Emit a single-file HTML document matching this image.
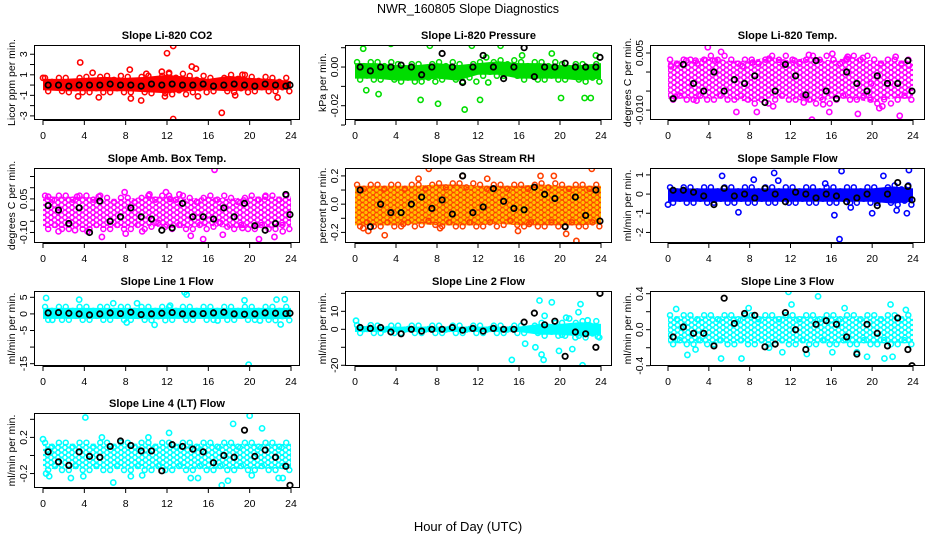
<!DOCTYPE html>
<html><head><meta charset="utf-8"><style>
body{margin:0;background:#fff}
svg{display:block;font-family:"Liberation Sans",sans-serif}
</style></head><body>
<svg id="c" width="936" height="540" viewBox="0 0 936 540">
<rect width="936" height="540" fill="#fff"/>
<text x="468" y="13" text-anchor="middle" font-size="12.5">NWR_160805  Slope Diagnostics</text>
<text x="468" y="531" text-anchor="middle" font-size="13">Hour of Day (UTC)</text>
</svg>
<script>
const bandHours=[0,2,4,6,8,10,12,14,16,18,20,22,24];
const blackHours=[0.5,1.5,2.5,3.5,4.5,5.5,6.5,7.5,8.5,9.5,10.5,11.5,12.5,13.5,14.5,15.5,16.5,17.5,18.5,19.5,20.5,21.5,22.5,23.5,23.9];
const xTicks=[0,4,8,12,16,20,24];

const co2Lo=[-0.5,-0.6,-0.6,-0.6,-0.6,-0.7,-0.8,-0.6,-0.5,-0.6,-0.5,-0.5,-0.4];
const co2Hi=[0.6,0.6,0.7,0.8,0.7,0.8,1.0,0.8,0.6,0.9,0.7,0.6,0.4];
const co2OutX=[3.6,12,12.6,12.6,17.3,14.4,14.8,8.4,8.5,9.5,5.4,3.4,15,11.8,22.7,18.6,4.8,10,11.5,12.2,19.3,0];
const co2OutY=[2.2,3.1,3.8,-3.3,-2.7,1.8,1.6,1.5,-1.3,-1.5,-1.2,-1.1,-1.1,-1.1,-1.2,-1,1.2,1.1,1.3,1.2,1.0,0.7];
const co2Black=[0,0,-0.1,0,0,0,0.1,0,0,-0.1,0.1,0,0.1,0,0,0.1,-0.1,0,0.1,0,-0.1,0.1,0,-0.1,0];

const presLo=[-0.006,-0.006,-0.007,-0.007,-0.006,-0.007,-0.004,-0.004,-0.006,-0.006,-0.006,-0.007,-0.006];
const presHi=[0.002,0.002,0.001,0.001,0.002,0.001,0.002,0.003,0.002,0.002,0.001,0.001,0.002];
const presOutX=[0.8,2.7,3.5,7.3,8.9,11.4,14.2,16.0,8,24,10.7,8.1,6.4,12.2,20.1,22.4,23,1.1,2.3,13.0,19.2,23.5,16.3,12.8];
const presOutY=[0.0095,0.015,0.012,0.011,0.013,0.011,0.011,-0.0295,-0.0295,-0.0315,-0.022,-0.019,-0.017,-0.017,-0.016,-0.016,-0.016,-0.012,-0.014,-0.008,0.007,0.006,0.006,0.005];
const presBlack=[0,-0.002,0,0,0.001,0,-0.004,0,0.007,0,-0.008,0,0.006,0,-0.006,0,0.01,-0.005,0,0,0.002,0,0,0,0.005];

const tempLo=[-0.007,-0.007,-0.007,-0.007,-0.008,-0.007,-0.007,-0.008,-0.007,-0.007,-0.008,-0.007,-0.007];
const tempHi=[0.003,0.003,0.004,0.003,0.003,0.004,0.003,0.004,0.003,0.004,0.003,0.003,0.003];
const tempOutX=[3.9,5.2,16.1,17.6,19.1,22.3,23.6,0.3,6.7,8.7,14.1,15.8,18.6,21,13.3,10.3,2.8,0.7,22.7,17.5,13.8,11.3,7.3,8.3,4.6,1.8,2.7,9.9,12.4,20.7,15.2,19.9];
const tempOutY=[0.0065,0.0053,0.0048,0.004,0.0037,0.004,0.0017,0.0015,-0.0105,-0.0105,-0.0125,-0.0105,-0.011,-0.009,-0.008,-0.009,-0.0075,-0.0065,-0.0115,0.0035,0.0045,0.0025,0.0015,0.0025,0.003,0.003,0.003,0.0035,0.003,-0.0095,-0.0085,-0.003];
const tempBlack=[-0.007,0.002,-0.003,-0.005,0,-0.005,-0.002,-0.003,-0.001,-0.008,-0.005,0.002,-0.001,-0.006,0.003,-0.005,-0.007,0,-0.003,-0.005,-0.001,-0.003,-0.003,0.003,-0.005];

const ambLo=[-0.08,-0.08,-0.08,-0.08,-0.08,-0.07,-0.08,-0.08,-0.07,-0.08,-0.08,-0.08,-0.07];
const ambHi=[0.06,0.06,0.06,0.05,0.05,0.06,0.06,0.05,0.06,0.05,0.06,0.06,0.06];
const ambOutX=[16.6,7.9,11.9,13.2,0.5,5.4,5.7,8,15.5,20.9,14.3,22.4,3.1,4.3,17.4,9.6,19.3,1.5,23.2,21.5,3.3,10.3,12.3];
const ambOutY=[0.18,0.08,0.08,0.07,0.06,0.06,-0.12,-0.105,-0.13,-0.13,-0.115,-0.12,-0.09,-0.095,-0.11,-0.095,-0.08,-0.095,-0.095,0.06,0.06,0.07,0.05];
const ambBlack=[0.02,0,-0.06,0.01,-0.1,0.04,-0.05,-0.03,0.01,-0.03,-0.04,-0.09,-0.08,0.03,-0.03,-0.03,-0.04,0.01,-0.03,0.03,-0.07,-0.09,-0.06,0.07,-0.02];

const rhLo=[-0.15,-0.15,-0.15,-0.14,-0.15,-0.15,-0.15,-0.14,-0.15,-0.15,-0.15,-0.15,-0.14];
const rhHi=[0.13,0.13,0.13,0.13,0.14,0.14,0.13,0.13,0.13,0.14,0.13,0.13,0.13];
const rhOutX=[7.2,23.1,21.6,2.9,0.8,8.3,18.1,10.5,19.4,12.9,15.9,1.3,20.6,4.7,17,6.2];
const rhOutY=[0.25,0.25,-0.26,-0.22,-0.17,-0.17,0.2,0.2,0.2,0.18,-0.19,-0.19,-0.21,-0.14,-0.14,0.18];
const rhBlack=[0.1,-0.16,0,-0.06,-0.06,0,0.05,-0.03,0.03,-0.07,0.2,-0.06,-0.02,0.11,0.02,-0.03,-0.04,0.12,0.07,0.04,-0.16,0.05,-0.08,0.1,-0.12];

const flowLo=[-0.4,-0.4,-0.4,-0.4,-0.4,-0.4,-0.4,-0.4,-0.4,-0.4,-0.4,-0.5,-0.4];
const flowHi=[0.3,0.3,0.3,0.3,0.3,0.3,0.3,0.3,0.3,0.3,0.3,0.4,0.3];
const flowOutX=[5.3,10.4,10.8,8.4,17,21.1,23.6,6.9,16.3,16.8,20,17.9,23.4,22.4,0,15.4];
const flowOutY=[0.95,1.1,0.7,0.75,1.2,0.95,1.25,-0.95,-1.1,-2.35,-1,-0.7,-1,-0.85,-0.55,0.55];
const flowBlack=[0.2,0.2,0.1,-0.1,-0.55,0.3,-0.1,0,-0.2,0.3,0,-0.4,0.1,0,-0.2,0,-0.1,-0.4,-0.2,0,-0.6,0,0.6,0.4,-0.3];

const l1Lo=[-1.5,-1.5,-1.5,-1.5,-1.5,-1.6,-1.5,-1.5,-1.5,-1.5,-1.5,-1.6,-1.5];
const l1Hi=[1.8,1.8,1.8,1.8,1.8,1.8,1.8,1.8,1.8,1.8,1.8,1.8,1.8];
const l1OutX=[0.3,13.7,13.9,3.5,6.8,9.1,12.3,19.5,22.6,23.4,19.9,8.1,10.8,23,0.9,16.9,21];
const l1OutY=[4.8,6.5,5.8,4.3,3.2,3.2,2.5,4.1,4.3,4.4,-15.3,-2.6,-3.3,-3.2,-1.8,-2,-2];
const l1Black=[0.3,0.4,0.2,0,-0.3,0,0.3,0.1,0.5,-0.2,0,0.2,0.4,0,0,0.1,0.3,0.5,0,-0.1,0,0.3,0.2,0.1,0.2];

const l2Lo=[-1.5,-1.5,-1.5,-1.5,-1.5,-1.5,-1.5,-1.5,-1.5,-3,-3,-4,-3];
const l2Hi=[1.8,1.5,1.5,1.5,1.5,1.5,1.5,1.5,1.5,3,3,4,3];
const l2OutX=[0.1,15.3,16.6,17.6,18,18.2,18.4,18.5,19.2,19.9,20.6,20.9,21.2,21.8,22,22.2,22.7,23.7,20.2,21.5];
const l2OutY=[4.8,-17,-8,-10,16,-14,-17,7.5,15,-12,6.5,6,-11,9.5,14,-20,5,-4,-3,-4.5];
const l2Black=[1,0.5,1,-1.5,-2.5,0,-1,0,0,1,-0.5,0.5,-1,0.5,0,0,4,9,2.5,4.5,-15,-1.5,-2.5,-10,20];

const l3Lo=[-0.15,-0.15,-0.15,-0.15,-0.15,-0.15,-0.15,-0.15,-0.15,-0.15,-0.15,-0.15,-0.15];
const l3Hi=[0.15,0.15,0.15,0.15,0.15,0.15,0.15,0.15,0.15,0.15,0.15,0.15,0.15];
const l3OutX=[11.8,14.7,12.1,21.8,17.3,0.8,1.9,5.2,7.2,11.2,13.6,16.1,19.5,21.2,22,9.9,2.7,23.3,7.9,18.5];
const l3OutY=[0.42,0.37,0.28,0.28,0.24,0.23,-0.28,-0.32,-0.32,-0.25,-0.27,-0.25,-0.3,-0.32,-0.3,-0.2,-0.22,0.22,0.24,-0.25];
const l3Black=[-0.08,0.03,-0.04,-0.04,-0.18,0.35,0.07,0.18,0.16,-0.19,-0.16,0.19,0,-0.22,0.06,0.1,0.06,-0.08,-0.27,0.06,-0.04,-0.18,0.13,-0.22,-0.4];

const l4Lo=[-0.15,-0.15,-0.15,-0.15,-0.15,-0.15,-0.15,-0.15,-0.15,-0.15,-0.15,-0.15,-0.15];
const l4Hi=[0.13,0.13,0.13,0.13,0.13,0.13,0.13,0.13,0.13,0.13,0.13,0.13,0.13];
const l4OutX=[4.1,20,18.4,6.8,17.3,17.9,2.7,0.3,0.6,3.9,8.5,9.6,14.3,15,20.2,22.8,23.2,21.2,12.2,0,10.2,5.7];
const l4OutY=[0.42,0.44,0.35,-0.3,-0.33,-0.28,-0.25,-0.2,-0.23,-0.23,-0.23,-0.22,-0.25,-0.25,-0.22,-0.25,-0.25,0.3,0.25,0.18,0.2,0.2];
const l4Black=[0.04,-0.07,-0.11,0.04,-0.01,-0.02,0.1,0.16,0.11,0.05,0.05,-0.17,0.12,0.1,0.07,0.04,-0.08,0,-0.02,0.28,-0.01,0.06,-0.02,-0.12,-0.33];

const titles=["Slope Li-820 CO2","Slope Li-820 Pressure","Slope Li-820 Temp.","Slope Amb. Box Temp.","Slope Gas Stream RH","Slope Sample Flow","Slope Line 1 Flow","Slope Line 2 Flow","Slope Line 3 Flow","Slope Line 4 (LT) Flow"];
const yTitles=["Licor ppm per min.","kPa per min.","degrees C per min.","degrees C per min.","percent per min.","ml/min per min.","ml/min per min.","ml/min per min.","ml/min per min.","ml/min per min."];
const yTicks=[[-3,-2,-1,0,1,2,3],[0.01,0,-0.01,-0.02,-0.03],[0.005,0,-0.005,-0.01],[0.15,0.1,0.05,0,-0.05,-0.1],[0.2,0.1,0,-0.1,-0.2],[1,0,-1,-2],[5,0,-5,-10,-15],[20,10,0,-10,-20],[0.4,0.2,0,-0.2,-0.4],[0.4,0.2,0,-0.2]];
const yTickLabels=[["-3","","-1","","1","","3"],["","0.00","","-0.02",""],["0.005","","","-0.010"],["","","0.05","","","-0.10"],["0.2","","0.0","","-0.2"],["1","0","-1","-2"],["5","0","-5","","-15"],["","10","0","","-20"],["0.4","","0.0","","-0.4"],["","0.2","","-0.2"]];
const yMin=[-3.4,-0.0274,-0.0126,-0.147,-0.275,-2.55,-15.7,-20.4,-0.403,-0.36];
const yMax=[3.9,0.0114,0.0071,0.188,0.256,1.36,6.9,21.3,0.43,0.47];
const lows=[co2Lo,presLo,tempLo,ambLo,rhLo,flowLo,l1Lo,l2Lo,l3Lo,l4Lo];
const highs=[co2Hi,presHi,tempHi,ambHi,rhHi,flowHi,l1Hi,l2Hi,l3Hi,l4Hi];
const outXs=[co2OutX,presOutX,tempOutX,ambOutX,rhOutX,flowOutX,l1OutX,l2OutX,l3OutX,l4OutX];
const outYs=[co2OutY,presOutY,tempOutY,ambOutY,rhOutY,flowOutY,l1OutY,l2OutY,l3OutY,l4OutY];
const blacks=[co2Black,presBlack,tempBlack,ambBlack,rhBlack,flowBlack,l1Black,l2Black,l3Black,l4Black];
const strokes=["#ff0000","#00dd00","#ff00ff","#ff00ff","#ff4000","#0000ff","#00ffff","#00ffff","#00ffff","#00ffff"];
const patBg=["none","none","#fff","#fff","#ffc000","none","none","none","#fff","#fff"];
const patterned=[false,false,true,true,true,false,false,false,true,true];

const colBox=[[34,300,43,291],[345,612,355,601],[650,925,668,913]];
const rowTop=[45,168,291,413];
const H=75;
const NS="http://www.w3.org/2000/svg";
const svg=document.getElementById('c');
function mk(tag,attrs,parent){const e=document.createElementNS(NS,tag);for(const k in attrs)e.setAttribute(k,attrs[k]);(parent||svg).appendChild(e);return e;}
const defs=mk('defs',{});

for(let p=0;p<10;p++){
  const col=p%3,row=Math.floor(p/3);
  const [bl,br,x0,x24]=colBox[col];
  const top=rowTop[row],bot=top+H;
  const xs=h=>x0+(x24-x0)*h/24;
  const ys=v=>bot-(v-yMin[p])/(yMax[p]-yMin[p])*H;
  let fill=strokes[p];
  if(patterned[p]){
    const pat=mk('pattern',{id:'pat'+p,width:7,height:5,patternUnits:'userSpaceOnUse'},defs);
    mk('rect',{width:7,height:5,fill:patBg[p]},pat);
    mk('circle',{cx:2,cy:2.5,r:2.2,fill:'none',stroke:strokes[p],'stroke-width':p===4?0.9:1.4},pat);
    mk('circle',{cx:5.5,cy:0,r:2.2,fill:'none',stroke:strokes[p],'stroke-width':p===4?0.9:1.4},pat);
    mk('circle',{cx:5.5,cy:5,r:2.2,fill:'none',stroke:strokes[p],'stroke-width':p===4?0.9:1.4},pat);
    fill='url(#pat'+p+')';
  }
  const g=mk('g',{});
  
  
  const cp=mk('clipPath',{id:'cp'+p},g);
  mk('rect',{x:bl,y:top,width:br-bl,height:H},cp);
  const t=mk('text',{x:(bl+br)/2,y:top-6,'text-anchor':'middle','font-size':'11','font-weight':'bold'},g);
  t.textContent=titles[p];
  
  
  const dg=mk('g',{'clip-path':'url(#cp'+p+')'},g);
  let pts=bandHours.map((h,i)=>xs(h)+','+ys(highs[p][i]));
  pts=pts.concat(bandHours.map((h,i)=>xs(h)+','+ys(lows[p][i])).reverse());
  const band=mk('polygon',{points:pts.join(' '),fill:fill,stroke:'none'},dg);
  
  
  bandHours.forEach((h,i)=>{
    if(i===bandHours.length-1)return;
    for(let k=0;k<3;k++){
      const hh=h+k*0.67+0.2;
      const c=mk('circle',{cx:xs(hh),cy:ys(highs[p][i])+(k%2?3:-1),r:2.5,fill:'none',stroke:strokes[p],'stroke-width':1.5},dg);
      
      
      const c2=mk('circle',{cx:xs(hh+0.3),cy:ys(lows[p][i])+(k%2?-3:1),r:2.5,fill:'none',stroke:strokes[p],'stroke-width':1.5},dg);
      
      
    }
  });
  outXs[p].forEach((h,i)=>{
    const c=mk('circle',{cx:xs(h),cy:ys(outYs[p][i]),r:2.6,fill:'none',stroke:strokes[p],'stroke-width':1.6},dg);
    
    
  });
  blackHours.forEach((h,i)=>{
    const c=mk('circle',{cx:xs(h),cy:ys(blacks[p][i]),r:2.7,fill:'none',stroke:'#000','stroke-width':1.8},dg);
    
    
  });
  const box=mk('rect',{x:bl+0.5,y:top+0.5,width:br-bl-1,height:H-1,fill:'none',stroke:'#000','stroke-width':1},g);
  
  
  mk('line',{x1:xs(0),x2:xs(24),y1:bot+0.5,y2:bot+0.5,stroke:'#000'},g);
  xTicks.forEach(v=>{
    mk('line',{x1:xs(v),x2:xs(v),y1:bot,y2:bot+5,stroke:'#000'},g);
    const tl=mk('text',{x:xs(v),y:bot+19,'text-anchor':'middle','font-size':'10.5'},g);
    tl.textContent=v;
    
    
  });
  const yt=yTicks[p];
  mk('line',{x1:bl+0.5,x2:bl+0.5,y1:ys(Math.max(...yt)),y2:ys(Math.min(...yt)),stroke:'#000'},g);
  yt.forEach((v,i)=>{
    const y=ys(v);
    mk('line',{x1:bl-4,x2:bl,y1:y,y2:y,stroke:'#000'},g);
    if(yTickLabels[p][i]){
      const tl=mk('text',{x:0,y:0,'text-anchor':'middle','font-size':'10.5',transform:`translate(${bl-7},${y}) rotate(-90)`},g);
      tl.textContent=yTickLabels[p][i];
      
      
    }
  });
  const yl=mk('text',{x:0,y:0,'text-anchor':'middle','font-size':'10.5',transform:`translate(${bl-19},${top+H/2}) rotate(-90)`},g);
  yl.textContent=yTitles[p];
  
  
}
</script>
</body></html>
